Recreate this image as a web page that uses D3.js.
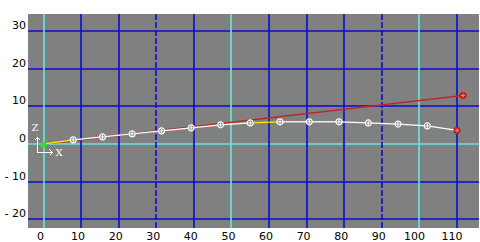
<!DOCTYPE html>
<html>
<head>
<meta charset="utf-8">
<script src="https://cdn.jsdelivr.net/npm/d3@7"></script>
<style>
body { margin: 0; background: #fff; }
svg { display: block; }
text { font-family: "DejaVu Sans", sans-serif; font-size: 11px; fill: #000; }
</style>
</head>
<body>
<div id="chart"></div>
<script>
// trajectory points (x, z)
var pathX = [0, 7.9, 15.7, 23.6, 31.4, 39.3, 47.1, 55.0, 62.9, 70.7, 78.6, 86.4, 94.3, 102.1, 110];
var pathZ = [0, 1.1, 1.9, 2.7, 3.5, 4.3, 5.1, 5.6, 5.9, 5.9, 5.9, 5.6, 5.3, 4.8, 3.6];
// straight aim line
var aimX = [0, 111.6];
var aimZ = [0, 12.9];
// highlighted segments (index of start point)
var yellowSegs = [0, 7];
var xTicks = [0, 10, 20, 30, 40, 50, 60, 70, 80, 90, 100, 110];
var yTicks = [30, 20, 10, 0, -10, -20];
var yLabels = ["30", "20", "10", "0", "- 10", "- 20"];
var cyanX = [0, 50, 100];
var dashedX = [30, 90];

var W = 480, H = 242;
var svg = d3.select("#chart").append("svg").attr("width", W).attr("height", H);

var x = d3.scaleLinear().domain([0, 110]).range([43.5, 457]);
var y = d3.scaleLinear().domain([0, 30]).range([144, 31.2]);

var pLeft = 28, pTop = 14, pRight = 479, pBottom = 228;
var BLUE = "#0c0ccc", CYAN = "#66e6e6";

svg.append("rect").attr("x", pLeft).attr("y", pTop)
    .attr("width", pRight - pLeft).attr("height", pBottom - pTop)
    .attr("fill", "#808080");

var grid = svg.append("g");
// horizontal lines
grid.selectAll("line.h").data(yTicks).enter().append("line")
    .attr("class", "h")
    .attr("x1", pLeft).attr("x2", pRight)
    .attr("y1", function(d) { return Math.round(y(d)); })
    .attr("y2", function(d) { return Math.round(y(d)); })
    .attr("stroke", function(d) { return d === 0 ? CYAN : BLUE; })
    .attr("stroke-width", 1.6);
// vertical lines
grid.selectAll("line.v").data(xTicks).enter().append("line")
    .attr("class", "v")
    .attr("y1", pTop).attr("y2", pBottom)
    .attr("x1", function(d) { return Math.round(x(d)); })
    .attr("x2", function(d) { return Math.round(x(d)); })
    .attr("stroke", function(d) { return cyanX.indexOf(d) >= 0 ? CYAN : BLUE; })
    .attr("stroke-dasharray", function(d) { return dashedX.indexOf(d) >= 0 ? "6,2" : null; })
    .attr("stroke-width", 1.6);

// tick labels
svg.selectAll("text.yl").data(yTicks).enter().append("text")
    .attr("class", "yl")
    .attr("x", 26).attr("y", function(d) { return y(d) - 2; })
    .attr("text-anchor", "end")
    .text(function(d, i) { return yLabels[i]; });
svg.selectAll("text.xl").data(xTicks).enter().append("text")
    .attr("class", "xl")
    .attr("x", function(d) { return x(d) - (d >= 100 ? 5 : 3); }).attr("y", 240)
    .attr("text-anchor", "middle")
    .text(function(d) { return d; });

// aim line
var line = d3.line().x(function(d) { return x(d[0]); }).y(function(d) { return y(d[1]); });
var aimPts = aimX.map(function(d, i) { return [d, aimZ[i]]; });
svg.append("path").attr("d", line(aimPts))
    .attr("fill", "none").attr("stroke", "#c02828").attr("stroke-width", 1.3);

// trajectory
var pts = pathX.map(function(d, i) { return [d, pathZ[i]]; });
svg.selectAll("line.seg").data(pts.slice(1)).enter().append("line")
    .attr("class", "seg")
    .attr("x1", function(d, i) { return x(pts[i][0]); })
    .attr("y1", function(d, i) { return y(pts[i][1]); })
    .attr("x2", function(d) { return x(d[0]); })
    .attr("y2", function(d) { return y(d[1]); })
    .attr("stroke", function(d, i) { return yellowSegs.indexOf(i) >= 0 ? "#f0f000" : "#ffffff"; })
    .attr("stroke-width", 1.3);

// point markers
var mk = svg.selectAll("g.mk").data(pts.slice(1, pts.length - 1)).enter().append("g")
    .attr("class", "mk")
    .attr("transform", function(d) { return "translate(" + x(d[0]) + "," + y(d[1]) + ")"; });
mk.append("circle").attr("r", 3).attr("fill", "#808080").attr("stroke", "#ffffff").attr("stroke-width", 1.2);
mk.append("path").attr("d", "M-2,0H2M0,-2V2").attr("stroke", "#ffffff").attr("stroke-width", 1);

var ends = [pts[pts.length - 1], aimPts[1]];
var em = svg.selectAll("g.end").data(ends).enter().append("g")
    .attr("class", "end")
    .attr("transform", function(d) { return "translate(" + x(d[0]) + "," + y(d[1]) + ")"; });
em.append("circle").attr("r", 3).attr("fill", "#d02020").attr("stroke", "#c01818").attr("stroke-width", 1.2);
em.append("path").attr("d", "M-2,0H2M0,-2V2").attr("stroke", "#ff8080").attr("stroke-width", 1);

// start point
svg.append("circle").attr("cx", x(0)).attr("cy", y(0) + 1).attr("r", 3).attr("fill", "#30e030");

// axis indicator
var ax = svg.append("g").attr("stroke", "#fff").attr("stroke-width", 1).attr("fill", "none")
    .attr("shape-rendering", "crispEdges");
ax.append("path").attr("d", "M37.5,152.5V137.5M34.5,140.5L37.5,137.5L40.5,140.5");
ax.append("path").attr("d", "M37.5,152.5H52.5M49.5,149.5L52.5,152.5L49.5,155.5");
svg.append("text").attr("x", 35).attr("y", 131).attr("text-anchor", "middle")
    .style("fill", "#fff").style("font-family", "DejaVu Serif, serif").style("font-size", "10px").text("Z");
svg.append("text").attr("x", 59).attr("y", 156).attr("text-anchor", "middle")
    .style("fill", "#fff").style("font-family", "DejaVu Serif, serif").style("font-size", "10px").text("X");
</script>
</body>
</html>
